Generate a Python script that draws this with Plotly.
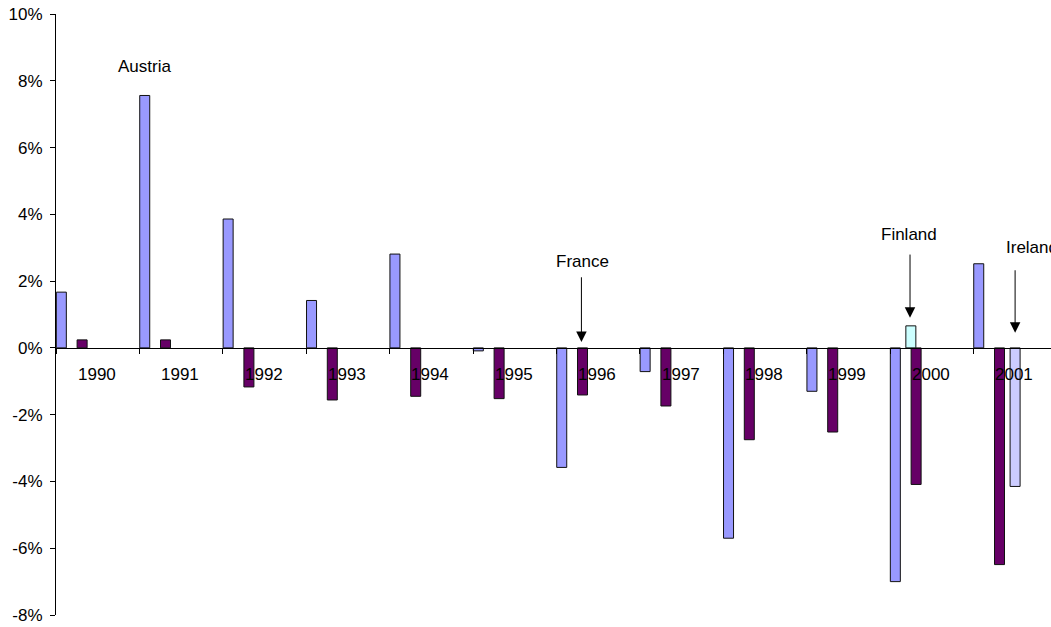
import plotly.graph_objects as go

# Year categories and yearly changes (%)
years = ["1990", "1991", "1992", "1993", "1994", "1995",
         "1996", "1997", "1998", "1999", "2000", "2001"]
series_a = [1.67, 7.56, 3.86, 1.42, 2.81, -0.09, -3.58, -0.71, -5.70, -1.30, -7.00, 2.52]
series_b = [0.24, 0.24, -1.17, -1.56, -1.45, -1.52, -1.41, -1.74, -2.75, -2.52, -4.09, -6.49]
finland_year = ["2000"]
finland_value = [0.66]
ireland_year = ["2001"]
ireland_value = [-4.15]

y_ticks = [-8, -6, -4, -2, 0, 2, 4, 6, 8, 10]
y_tick_text = ["-8%", "-6%", "-4%", "-2%", "0%", "2%", "4%", "6%", "8%", "10%"]

FONT = "Liberation Sans, Arial, sans-serif"
BAR_W = 0.12
idx = {y: i for i, y in enumerate(years)}


def pos(labels):
    return [idx[y] for y in labels]


fig = go.Figure()
fig.add_bar(x=pos(years), y=series_a, offset=0.004, width=BAR_W,
            marker=dict(color="#9999FF", line=dict(color="#111111", width=1)))
fig.add_bar(x=pos(years), y=series_b, offset=0.253, width=BAR_W,
            marker=dict(color="#660066", line=dict(color="#111111", width=1)))
fig.add_bar(x=pos(finland_year), y=finland_value, offset=0.19, width=BAR_W,
            marker=dict(color="#CCFFFF", line=dict(color="#111111", width=1)))
fig.add_bar(x=pos(ireland_year), y=ireland_value, offset=0.44, width=BAR_W,
            marker=dict(color="#CCCCFF", line=dict(color="#111111", width=1)))

annotations = []
# Year labels just below the zero line
for i, y in enumerate(years):
    annotations.append(dict(x=i + 0.49, y=0, xref="x", yref="y", text=y,
                            showarrow=False, yshift=-27,
                            font=dict(size=17, color="black", family=FONT)))

# Country call-outs
annotations.append(dict(x=1.057, y=8.43, xref="x", yref="y", text="Austria",
                        showarrow=False, font=dict(size=17, color="black", family=FONT)))
annotations.append(dict(x=6.307, y=2.58, xref="x", yref="y", text="France",
                        showarrow=False, font=dict(size=17, color="black", family=FONT)))
annotations.append(dict(x=10.23, y=3.39, xref="x", yref="y", text="Finland",
                        showarrow=False, font=dict(size=17, color="black", family=FONT)))
annotations.append(dict(x=11.367, y=3.01, xref="x", yref="y", text="Ireland",
                        xanchor="left", showarrow=False,
                        font=dict(size=17, color="black", family=FONT)))

arrows = [(6.30, 0.18, 2.16), (10.24, 0.90, 2.84), (11.50, 0.45, 2.37)]
for ax_x, tip_y, tail_y in arrows:
    annotations.append(dict(x=ax_x, y=tip_y, xref="x", yref="y",
                            ax=ax_x, ay=tail_y, axref="x", ayref="y",
                            text="", showarrow=True, arrowhead=2,
                            arrowsize=2.1, arrowwidth=1, arrowcolor="black",
                            standoff=0, startstandoff=0))

fig.update_layout(
    width=1051, height=627,
    margin=dict(l=56, r=0, t=14, b=12),
    paper_bgcolor="white", plot_bgcolor="white",
    showlegend=False, barmode="overlay",
    font=dict(family=FONT, size=17, color="black"),
    annotations=annotations,
    xaxis=dict(range=[0, 995 / 83.4], anchor="free", position=8 / 18,
               showline=True, linecolor="black", linewidth=1,
               ticks="outside", ticklen=5, tickcolor="black", tickwidth=1,
               tickvals=list(range(len(years))), showticklabels=False,
               showgrid=False, zeroline=False),
    yaxis=dict(range=[-8, 10], tickvals=y_ticks, ticktext=y_tick_text,
               showline=True, linecolor="black", linewidth=1,
               ticks="outside", ticklen=5, tickcolor="black", tickwidth=1,
               ticklabelstandoff=4,
               showgrid=False, zeroline=False,
               tickfont=dict(size=17, color="black", family=FONT)),
)

fig.write_html("out.html")
